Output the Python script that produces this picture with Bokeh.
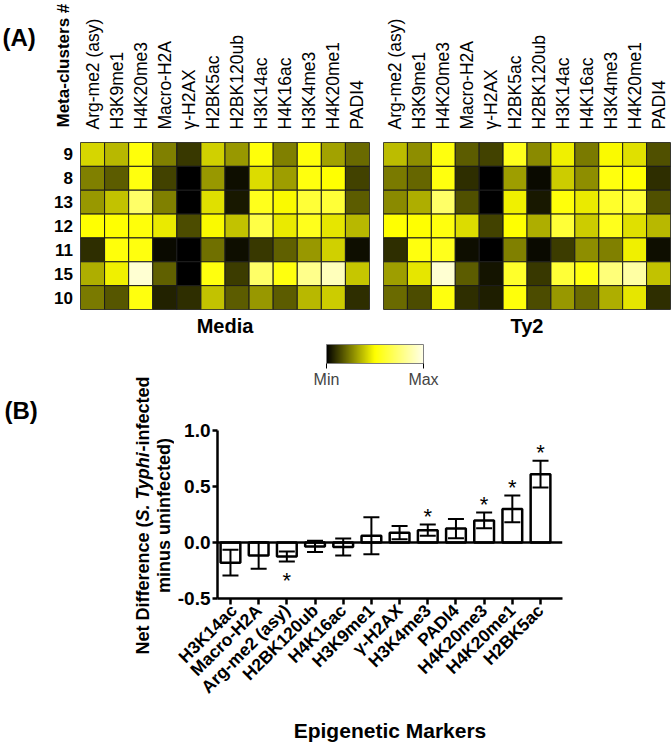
import math
from bokeh.plotting import figure
from bokeh.layouts import row, column
from bokeh.models import (FactorRange, Range1d, ColumnDataSource, LinearColorMapper, ColorBar,
                          FixedTicker, PrintfTickFormatter, Label, Span, Whisker, TeeHead, Title)
from bokeh.transform import linear_cmap
from bokeh.core.properties import value
from bokeh.embed import file_html
from bokeh.resources import INLINE

# ---------------- data ----------------
heat_markers = ["Arg-me2 (asy)", "H3K9me1", "H4K20me3", "Macro-H2A", "γ-H2AX", "H2BK5ac",
                "H2BK120ub", "H3K14ac", "H4K16ac", "H3K4me3", "H4K20me1", "PADI4"]
clusters = ["9", "8", "13", "12", "11", "15", "10"]

media_values = [
    [0.42, 0.36, 0.52, 0.25, 0.11, 0.41, 0.30, 0.52, 0.25, 0.52, 0.32, 0.21],
    [0.25, 0.18, 0.53, 0.13, 0.00, 0.30, 0.03, 0.43, 0.31, 0.53, 0.50, 0.13],
    [0.30, 0.38, 0.72, 0.25, 0.00, 0.44, 0.05, 0.56, 0.49, 0.62, 0.62, 0.18],
    [0.50, 0.50, 0.52, 0.46, 0.15, 0.49, 0.38, 0.65, 0.46, 0.56, 0.45, 0.36],
    [0.09, 0.52, 0.53, 0.02, 0.00, 0.22, 0.03, 0.11, 0.19, 0.30, 0.41, 0.03],
    [0.34, 0.47, 0.95, 0.19, 0.00, 0.53, 0.12, 0.72, 0.53, 0.80, 0.90, 0.39],
    [0.24, 0.17, 0.53, 0.07, 0.09, 0.38, 0.18, 0.30, 0.18, 0.36, 0.40, 0.09],
]
ty2_values = [
    [0.37, 0.28, 0.53, 0.18, 0.13, 0.56, 0.27, 0.47, 0.24, 0.49, 0.44, 0.16],
    [0.24, 0.20, 0.53, 0.09, 0.00, 0.31, 0.02, 0.40, 0.28, 0.53, 0.50, 0.09],
    [0.27, 0.34, 0.72, 0.16, 0.00, 0.47, 0.05, 0.52, 0.46, 0.59, 0.62, 0.16],
    [0.50, 0.50, 0.53, 0.43, 0.13, 0.50, 0.34, 0.62, 0.40, 0.56, 0.44, 0.36],
    [0.09, 0.53, 0.56, 0.03, 0.00, 0.25, 0.02, 0.12, 0.28, 0.25, 0.47, 0.03],
    [0.31, 0.45, 0.95, 0.18, 0.04, 0.59, 0.11, 0.62, 0.53, 0.76, 0.85, 0.38],
    [0.21, 0.15, 0.53, 0.09, 0.06, 0.52, 0.15, 0.30, 0.21, 0.34, 0.45, 0.09],
]

bar_markers = ["H3K14ac", "Macro-H2A", "Arg-me2 (asy)", "H2BK120ub", "H4K16ac", "H3K9me1",
               "γ-H2AX", "H3K4me3", "PADI4", "H4K20me3", "H4K20me1", "H2BK5ac"]
net_diff = [-0.18, -0.115, -0.125, -0.035, -0.04, 0.06, 0.088, 0.11, 0.124, 0.197, 0.30, 0.61]
sem = [0.115, 0.12, 0.045, 0.05, 0.075, 0.165, 0.06, 0.05, 0.085, 0.07, 0.12, 0.12]
significant = [False, False, True, False, False, False, False, True, False, True, True, True]

y_ticks = [-0.5, 0.0, 0.5, 1.0]

# ---------------- style helpers ----------------
FONT = "Liberation Sans"


def build_palette(n=256):
    stops = [(0.0, (0, 0, 0)), (0.5, (255, 255, 0)), (1.0, (255, 255, 232))]
    out = []
    for i in range(n):
        t = i / (n - 1)
        for (t0, c0), (t1, c1) in zip(stops[:-1], stops[1:]):
            if t0 <= t <= t1:
                f = (t - t0) / (t1 - t0)
                c = [round(a + (b - a) * f) for a, b in zip(c0, c1)]
                out.append("#%02x%02x%02x" % tuple(c))
                break
    return out


PALETTE = build_palette()

# Arial/Liberation Sans Bold advance widths (1/1000 em)
BOLD_W = {"N": 722, "e": 556, "t": 333, " ": 278, "D": 722, "i": 278, "f": 333, "r": 389,
          "n": 611, "c": 556, "(": 333, "S": 667, ".": 278, "T": 611, "y": 556, "p": 611,
          "h": 611, "-": 333, "d": 611, ")": 333, "m": 889, "u": 611, "s": 556}


def bold_width(s, size):
    return sum(BOLD_W[c] for c in s) / 1000.0 * size


def blank(width, height):
    p = figure(width=width, height=height, x_range=Range1d(0, 1), y_range=Range1d(0, 1),
               x_axis_location=None, y_axis_location=None,
               min_border_left=0, min_border_right=0, min_border_top=0, min_border_bottom=0,
               output_backend="svg", toolbar_location=None, tools="")
    p.outline_line_color = None
    p.grid.visible = False
    p.frame_align = False
    return p


TOP_H = 340      # page rows 0..340
MID_H = 81       # page rows 340..421
BOT_H = 324      # page rows 421..745
LEFT_W = 174     # width of the label column beside the colour bar and the bar chart

# ---------------- heatmaps ----------------
def heatmap(values, title, width, border_left, border_right):
    xs, ys, vs = [], [], []
    for r, cl in enumerate(clusters):
        for c, mk in enumerate(heat_markers):
            xs.append(mk)
            ys.append(cl)
            vs.append(values[r][c])
    src = ColumnDataSource(dict(marker=xs, cluster=ys, value=vs))
    p = figure(width=width, height=TOP_H,
               x_range=FactorRange(*heat_markers), y_range=FactorRange(*clusters[::-1]),
               x_axis_location="above", y_axis_location=None,
               min_border_left=border_left, min_border_right=border_right,
               min_border_top=142, min_border_bottom=31,
               output_backend="svg", toolbar_location=None, tools="")
    p.rect(x="marker", y="cluster", width=1, height=1, source=src,
           fill_color=linear_cmap("value", PALETTE, 0, 1),
           line_color="#1c1c1c", line_width=1)
    p.grid.visible = False
    p.outline_line_color = "#555555"
    ax = p.xaxis[0]
    ax.major_label_orientation = math.pi / 2
    ax.major_label_text_font = FONT
    ax.major_label_text_font_size = "17.5px"
    ax.major_label_text_color = "black"
    ax.major_label_standoff = 7
    ax.axis_line_color = None
    ax.major_tick_line_color = None
    ax.minor_tick_line_color = None
    p.add_layout(Title(text=title, align="center", text_font=FONT, text_font_size="20px",
                       text_font_style="bold", text_color="black", standoff=7), "below")
    return p


p_media = heatmap(media_values, "Media", 296, 0, 7)
p_ty2 = heatmap(ty2_values, "Ty2", 295, 7, 1)

# row labels + "Meta-clusters #" header
p_rows = figure(width=35, height=TOP_H, x_range=FactorRange("Meta-clusters #"),
                y_range=FactorRange(*clusters[::-1]), x_axis_location="above", y_axis_location=None,
                min_border_left=0, min_border_right=0, min_border_top=142, min_border_bottom=31,
                output_backend="svg", toolbar_location=None, tools="")
p_rows.outline_line_color = None
p_rows.grid.visible = False
p_rows.text(x=["Meta-clusters #"] * len(clusters), y=clusters, text=clusters, x_offset=10,
            text_font=value(FONT), text_font_size="17px", text_font_style="bold",
            text_align="right", text_baseline="middle", text_color="black")
ax = p_rows.xaxis[0]
ax.major_label_orientation = math.pi / 2
ax.major_label_text_font = FONT
ax.major_label_text_font_size = "17px"
ax.major_label_text_font_style = "bold"
ax.major_label_text_color = "black"
ax.major_label_standoff = 9
ax.axis_line_color = None
ax.major_tick_line_color = None
ax.minor_tick_line_color = None

p_A = blank(45, TOP_H)
p_A.add_layout(Label(x=2, y=TOP_H - 23, x_units="screen", y_units="screen", text="(A)",
                     text_font=FONT, text_font_size="24px", text_font_style="bold",
                     text_color="black", text_align="left", text_baseline="top"))

# ---------------- colour bar ----------------
p_cb = figure(width=671 - LEFT_W, height=MID_H, x_axis_location=None, y_axis_location=None,
              x_range=Range1d(0, 1), y_range=Range1d(0, 1),
              min_border_left=326 - LEFT_W, min_border_right=0, min_border_top=4, min_border_bottom=0,
              output_backend="svg", toolbar_location=None, tools="")
p_cb.outline_line_color = None
p_cb.grid.visible = False
p_cb.frame_align = False
mapper = LinearColorMapper(palette=PALETTE, low=0, high=1)
cb = ColorBar(color_mapper=mapper, location="top_left", orientation="horizontal",
              width=97, height=19, padding=0, margin=0, ticker=FixedTicker(ticks=[0, 1]),
              major_label_overrides={0: "Min", 1: "Max"},
              major_label_text_font=FONT, major_label_text_font_size="16px",
              major_tick_line_color="black", major_tick_out=5, major_tick_in=0,
              minor_tick_line_color=None, label_standoff=2,
              bar_line_color="#808080", bar_line_width=1,
              border_line_color=None, background_fill_alpha=0)
p_cb.add_layout(cb, "center")

# ---------------- bar chart ----------------
idx = list(range(len(bar_markers)))
bar_src = ColumnDataSource(dict(
    x=idx, top=net_diff,
    upper=[m + s for m, s in zip(net_diff, sem)],
    lower=[m - s for m, s in zip(net_diff, sem)],
))
star_x, star_y, star_off = [], [], []
for i, (m, s, sig) in enumerate(zip(net_diff, sem, significant)):
    if sig:
        star_x.append(i)
        if m >= 0:
            star_y.append(m + s)
            star_off.append(-8)
        else:
            star_y.append(m - s)
            star_off.append(19)
star_src = ColumnDataSource(dict(x=star_x, y=star_y, off=star_off, t=["*"] * len(star_x)))

p_bar = figure(width=671 - LEFT_W, height=BOT_H, x_range=Range1d(-0.46, 11.78),
               y_range=Range1d(y_ticks[0], y_ticks[-1]),
               min_border_left=216 - LEFT_W, min_border_right=109, min_border_top=9,
               min_border_bottom=145,
               output_backend="svg", toolbar_location=None, tools="")
p_bar.grid.visible = False
p_bar.outline_line_color = None
p_bar.frame_align = False

p_bar.vbar(x="x", top="top", bottom=0, width=0.7, source=bar_src,
           fill_color="white", line_color="black", line_width=2.5)
wh = Whisker(base="x", upper="upper", lower="lower", source=bar_src,
             line_color="black", line_width=2, level="annotation",
             upper_head=TeeHead(size=16, line_width=2, line_color="black"),
             lower_head=TeeHead(size=16, line_width=2, line_color="black"))
p_bar.add_layout(wh)
p_bar.add_layout(Span(location=0, dimension="width", line_color="black", line_width=2.5))
p_bar.text(x="x", y="y", text="t", y_offset="off", source=star_src,
           text_font=value(FONT), text_font_size="22px", text_align="center",
           text_baseline="middle", text_color="black")

ax = p_bar.xaxis[0]
ax.ticker = FixedTicker(ticks=idx)
ax.major_label_overrides = {i: m for i, m in enumerate(bar_markers)}
ax.major_label_orientation = math.pi / 4
ax.major_label_text_font = FONT
ax.major_label_text_font_size = "17.5px"
ax.major_label_text_font_style = "bold"
ax.major_label_text_color = "black"
ax.major_label_standoff = 3
ax.axis_line_width = 2.5
ax.major_tick_line_width = 2.5
ax.major_tick_out = 6
ax.major_tick_in = 0
ax.minor_tick_line_color = None
ax.axis_label = "Epigenetic Markers"
ax.axis_label_text_font = FONT
ax.axis_label_text_font_size = "21px"
ax.axis_label_text_font_style = "bold"
ax.axis_label_text_color = "black"
ax.axis_label_standoff = 12

ay = p_bar.yaxis[0]
ay.ticker = FixedTicker(ticks=y_ticks)
ay.formatter = PrintfTickFormatter(format="%.1f")
ay.major_label_text_font = FONT
ay.major_label_text_font_size = "19px"
ay.major_label_text_font_style = "bold"
ay.major_label_text_color = "black"
ay.major_label_standoff = 2
ay.axis_line_width = 2.5
ay.major_tick_line_width = 2.5
ay.major_tick_out = 5
ay.major_tick_in = 0
ay.minor_tick_line_color = None

# ---------------- left label column: (B) and the two-line y label ----------------
LEFT_H = MID_H + BOT_H          # page rows 340..745
p_left = blank(LEFT_W, LEFT_H)
p_left.add_layout(Label(x=4, y=LEFT_H - 56, x_units="screen", y_units="screen", text="(B)",
                        text_font=FONT, text_font_size="24px", text_font_style="bold",
                        text_color="black", text_align="left", text_baseline="top"))
LBL = 18
Y_CENTER = 745 - 515            # bar chart's vertical middle, from the page bottom
LINE1_X, LINE2_X = 142, 163
segs = [("Net Difference (", "bold"), ("S. Typhi", "bold italic"), ("-infected", "bold")]
total = sum(bold_width(s, LBL) for s, _ in segs)
y0 = Y_CENTER - total / 2
for s, style in segs:
    p_left.add_layout(Label(x=LINE1_X, y=y0, x_units="screen", y_units="screen", text=s,
                            angle=math.pi / 2, text_font=FONT, text_font_size="%dpx" % LBL,
                            text_font_style=style, text_color="black",
                            text_align="left", text_baseline="middle"))
    y0 += bold_width(s, LBL)
p_left.add_layout(Label(x=LINE2_X, y=Y_CENTER, x_units="screen", y_units="screen",
                        text="minus uninfected)", angle=math.pi / 2, text_font=FONT,
                        text_font_size="%dpx" % LBL, text_font_style="bold", text_color="black",
                        text_align="center", text_baseline="middle"))

layout = column(row(p_A, p_rows, p_media, p_ty2),
                row(p_left, column(p_cb, p_bar)))
open("out.html", "w").write(file_html(layout, INLINE))
